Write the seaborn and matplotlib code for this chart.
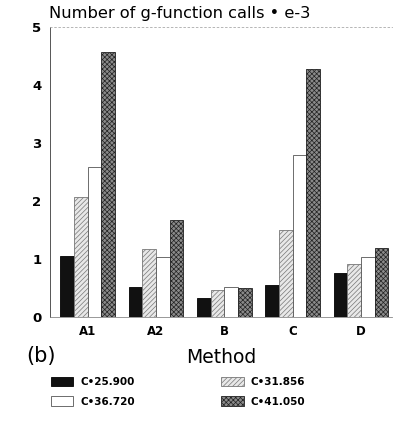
import matplotlib
matplotlib.use("Agg")
import matplotlib.pyplot as plt
import matplotlib.patches as mpatches
import seaborn as sns
import pandas as pd

methods = ["A1", "A2", "B", "C", "D"]
series = ["C•25.900", "C•31.856", "C•36.720", "C•41.050"]
c25900 = [1.05, 0.52, 0.32, 0.55, 0.76]
c31856 = [2.07, 1.17, 0.47, 1.50, 0.91]
c36720 = [2.58, 1.03, 0.52, 2.79, 1.03]
c41050 = [4.57, 1.67, 0.50, 4.28, 1.19]
yticks = [0, 1, 2, 3, 4, 5]

rows = []
for name, vals in zip(series, [c25900, c31856, c36720, c41050]):
    for m, v in zip(methods, vals):
        rows.append({"Method": m, "Series": name, "Calls": v})
df = pd.DataFrame(rows)

sns.set_style("white")
plt.rcParams["font.family"] = ["DejaVu Sans"]
plt.rcParams["hatch.linewidth"] = 0.5
plt.rcParams["text.color"] = "black"
plt.rcParams["axes.labelcolor"] = "black"
plt.rcParams["xtick.color"] = "black"
plt.rcParams["ytick.color"] = "black"

faces = ["#111111", "#e8e8e8", "#ffffff", "#8a8a8a"]
edges = ["#000000", "#777777", "#555555", "#222222"]
hatches = [None, "///////", None, "xxxxxxx"]

fig = plt.figure(figsize=(3.93, 4.21), dpi=100)
ax = fig.add_axes([0.127, 0.247, 0.87, 0.689])

sns.barplot(data=df, x="Method", y="Calls", hue="Series", order=methods,
            hue_order=series, palette=faces, width=0.8, gap=0,
            saturation=1, legend=False, ax=ax)

bars = [p for p in ax.patches if isinstance(p, mpatches.Rectangle)]
n = len(methods)
for i, p in enumerate(bars[: n * len(series)]):
    k = i // n
    p.set_facecolor(faces[k])
    p.set_edgecolor(edges[k])
    p.set_linewidth(0.6)
    if hatches[k]:
        p.set_hatch(hatches[k])

ax.set_ylim(0, 5)
ax.set_xlim(-0.55, 4.45)
ax.set_yticks(yticks)
ax.set_yticklabels([str(t) for t in yticks], fontsize=9.5, fontweight="bold")
ax.set_xticks(range(n))
ax.set_xticklabels(methods, fontsize=8.5, fontweight="bold")
ax.tick_params(axis="y", direction="in", length=4, width=0.6, color="#888888", pad=6)
ax.tick_params(axis="x", length=0, pad=6)
ax.set_ylabel("")
ax.set_xlabel("Method", fontsize=13.5, labelpad=7)

ax.spines["right"].set_visible(False)
ax.spines["top"].set_linestyle((0, (2, 3)))
ax.spines["top"].set_color("#aaaaaa")
ax.spines["top"].set_linewidth(0.6)
ax.spines["left"].set_color("#555555")
ax.spines["left"].set_linewidth(0.7)
ax.spines["bottom"].set_color("#888888")
ax.spines["bottom"].set_linewidth(0.6)

fig.text(0.125, 0.967, "Number of g-function calls • e-3", fontsize=11.7,
         va="center", ha="left")
fig.text(0.066, 0.155, "(b)", fontsize=15, va="center", ha="left")

handles = []
for k in range(len(series)):
    handles.append(mpatches.Patch(facecolor=faces[k], edgecolor=edges[k],
                                  hatch=hatches[k], linewidth=0.6, label=series[k]))
order = [0, 2, 1, 3]
fig.legend([handles[i] for i in order], [series[i] for i in order],
           loc="upper left", bbox_to_anchor=(0.118, 0.115), ncol=2,
           frameon=False, handlelength=2.2, handleheight=1.0,
           handletextpad=0.7, columnspacing=8.2, labelspacing=0.9,
           borderaxespad=0, prop={"weight": "bold", "size": 7.5})

fig.savefig("out.png", dpi=100)
